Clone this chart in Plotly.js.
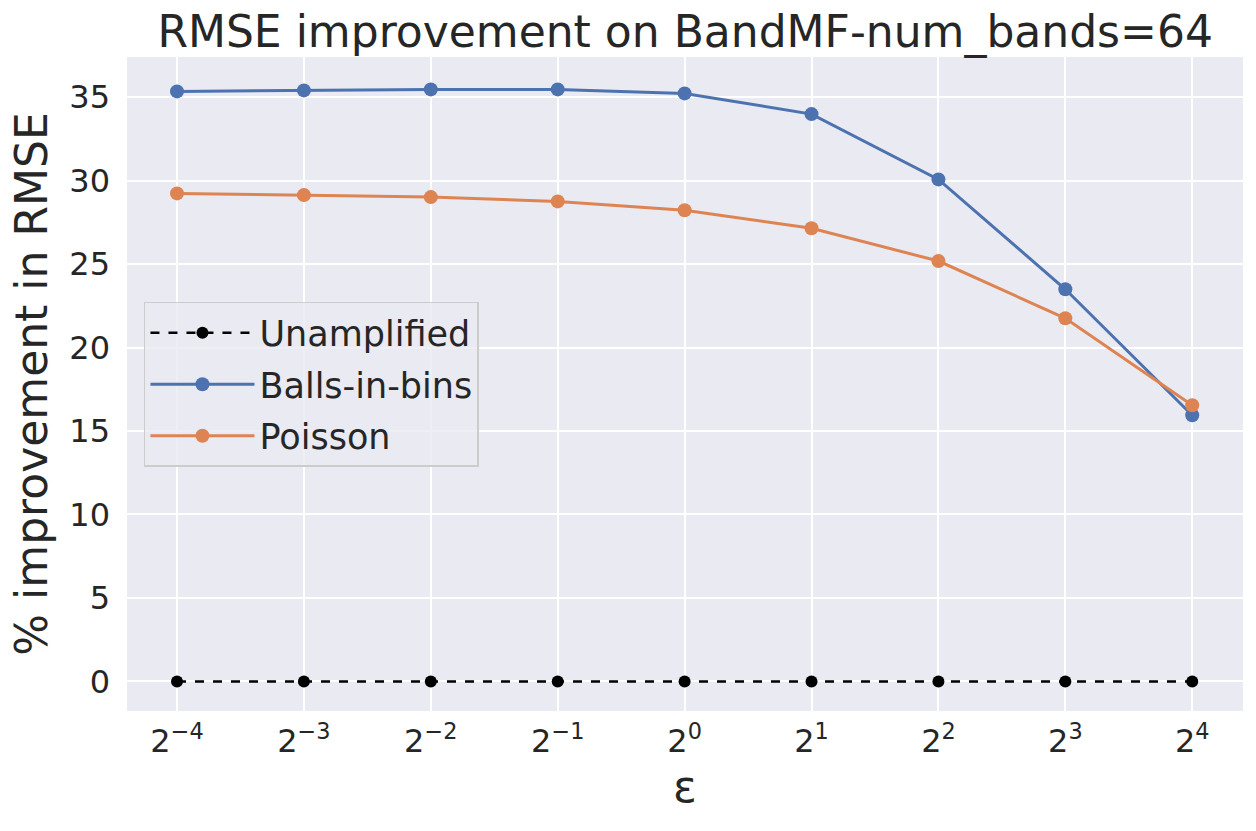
<!DOCTYPE html>
<html>
<head>
<meta charset="utf-8">
<script src="https://cdn.plot.ly/plotly-3.0.1.min.js"></script>
<style>html,body{margin:0;padding:0;background:#fff;}#chart{width:1256px;height:831px;}</style>
</head>
<body>
<div id="chart"></div>
<script>
const epsilons = [0.0625, 0.125, 0.25, 0.5, 1, 2, 4, 8, 16];
const tickLabels = ["2<sup>\u22124</sup>", "2<sup>\u22123</sup>", "2<sup>\u22122</sup>", "2<sup>\u22121</sup>", "2<sup>0</sup>", "2<sup>1</sup>", "2<sup>2</sup>", "2<sup>3</sup>", "2<sup>4</sup>"];
const unamplified = [0, 0, 0, 0, 0, 0, 0, 0, 0];
const ballsInBins = [35.34, 35.40, 35.46, 35.46, 35.22, 33.98, 30.07, 23.49, 15.94];
const poisson = [29.23, 29.13, 29.01, 28.75, 28.22, 27.14, 25.18, 21.75, 16.54];
const yTicks = [0, 5, 10, 15, 20, 25, 30, 35];

const FONT = "DejaVu Sans, Liberation Sans, sans-serif";
const TXT = "#262626";

const traces = [
  {x: epsilons, y: unamplified, name: "Unamplified", mode: "lines+markers", legendgroup: "a",
   line: {color: "#000000", width: 2.6, dash: "dash"}, marker: {color: "#000000", size: 12}},
  {x: epsilons, y: ballsInBins, name: "Balls-in-bins", mode: "lines+markers", legendgroup: "b",
   line: {color: "#4c72b0", width: 3}, marker: {color: "#4c72b0", size: 14}},
  {x: epsilons, y: poisson, name: "Poisson", mode: "lines+markers", legendgroup: "c",
   line: {color: "#dd8452", width: 3}, marker: {color: "#dd8452", size: 14}}
];

const layout = {
  width: 1256, height: 831,
  margin: {l: 127, r: 13, t: 57, b: 120},
  paper_bgcolor: "#ffffff", plot_bgcolor: "#eaeaf2",
  font: {family: FONT, color: TXT},
  title: {text: "RMSE improvement on BandMF-num_bands=64", font: {size: 44, family: FONT, color: TXT},
          x: 0.5455, xanchor: "center", y: 0.981, yanchor: "top"},
  xaxis: {type: "log", range: [Math.log10(Math.pow(2, -4.394)), Math.log10(Math.pow(2, 4.40))],
          tickvals: epsilons, ticktext: tickLabels, tickfont: {size: 32, family: FONT, color: TXT},
          showgrid: true, gridcolor: "#ffffff", gridwidth: 2, zeroline: false, showline: false, ticks: "",
          ticklabelstandoff: 8,
          title: {text: "\u03b5", font: {size: 44, family: FONT, color: TXT}, standoff: 12}},
  yaxis: {range: [-1.77, 37.40], tickvals: yTicks, ticktext: yTicks.map(String),
          tickfont: {size: 32, family: FONT, color: TXT},
          showgrid: true, gridcolor: "#ffffff", gridwidth: 2, zeroline: false, showline: false, ticks: "",
          ticklabelstandoff: 16,
          title: {text: "% improvement in RMSE", font: {size: 44, family: FONT, color: TXT}, standoff: 7}},
  showlegend: true,
  legend: {x: 0.0152, y: 0.6254, xanchor: "left", yanchor: "top", traceorder: "grouped",
           bgcolor: "rgba(234,234,242,0.8)", bordercolor: "#cccccc", borderwidth: 1.5,
           font: {size: 35, family: FONT, color: TXT}, itemwidth: 104, tracegroupgap: 3}
};

Plotly.newPlot("chart", traces, layout, {displayModeBar: false, staticPlot: true});
</script>
</body>
</html>
